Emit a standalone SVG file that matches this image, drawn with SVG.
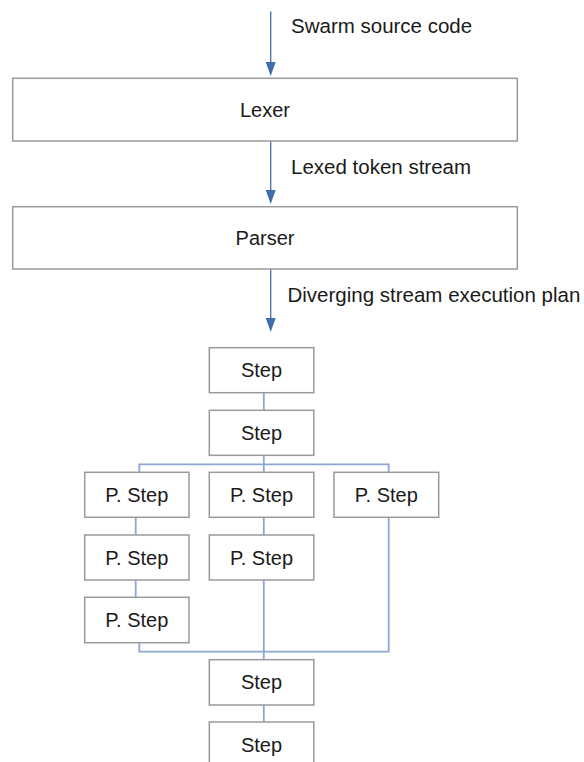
<svg xmlns="http://www.w3.org/2000/svg" width="584" height="762" viewBox="0 0 584 762">
  <style>
    .box { fill: #ffffff; stroke: #9a9a9a; stroke-width: 1.5; }
    .txt { font-family: "Liberation Sans", Arial, sans-serif; font-size: 20px; fill: #1a1a1a; text-anchor: middle; }
    .lbl { font-family: "Liberation Sans", Arial, sans-serif; font-size: 20.5px; fill: #1a1a1a; }
    .flow { stroke: #3f6ea8; stroke-width: 1.3; fill: none; }
    .tree { stroke: #8aa8d2; stroke-width: 1.8; fill: none; }
  </style>
  <defs>
    <marker id="arrow" viewBox="0 0 10 14" refX="5" refY="14" markerWidth="10" markerHeight="14" markerUnits="userSpaceOnUse" orient="auto-start-reverse">
      <path d="M0,0 L10,0 L5,14 Z" fill="#3f6ea8"/>
    </marker>
  </defs>
  <rect width="584" height="762" fill="#ffffff"/>

  <!-- connectors -->
  <g id="connectors">
    <line class="flow" x1="270.7" y1="11.5" x2="270.7" y2="62" />
    <path d="M265.7,62 L275.7,62 L270.7,76 Z" fill="#3f6ea8"/>
    <line class="flow" x1="270.7" y1="141" x2="270.7" y2="190" />
    <path d="M265.7,190 L275.7,190 L270.7,204 Z" fill="#3f6ea8"/>
    <line class="flow" x1="270.7" y1="269" x2="270.7" y2="318" />
    <path d="M265.7,318 L275.7,318 L270.7,332 Z" fill="#3f6ea8"/>

    <!-- step chain -->
    <line class="tree" x1="263.8" y1="392.7" x2="263.8" y2="410.3" />
    <!-- fan-out bus -->
    <line class="tree" x1="263.8" y1="455.3" x2="263.8" y2="472.3" />
    <polyline class="tree" points="139.3,472.3 139.3,464.3 388.7,464.3 388.7,472.3" />
    <!-- left branch -->
    <line class="tree" x1="135.7" y1="517.3" x2="135.7" y2="535" />
    <line class="tree" x1="135.7" y1="580" x2="135.7" y2="597.3" />
    <!-- middle branch -->
    <line class="tree" x1="263.8" y1="517.3" x2="263.8" y2="535" />
    <line class="tree" x1="263.8" y1="580" x2="263.8" y2="659.7" />
    <!-- fan-in bus -->
    <polyline class="tree" points="139.3,642.7 139.3,651.7 388.7,651.7 388.7,517.3" />
    <line class="tree" x1="263.8" y1="705" x2="263.8" y2="722" />
  </g>

  <!-- labels -->
  <text class="lbl" x="291" y="33">Swarm source code</text>
  <text class="lbl" x="291" y="174.3">Lexed token stream</text>
  <text class="lbl" x="287.5" y="302.3">Diverging stream execution plan</text>

  <g id="lexer">
    <rect class="box" x="12.7" y="78.3" width="504.6" height="62.7"/>
    <text class="txt" x="265" y="117">Lexer</text>
  </g>
  <g id="parser">
    <rect class="box" x="12.7" y="206.7" width="504.6" height="62.3"/>
    <text class="txt" x="265" y="245.2">Parser</text>
  </g>

  <g id="step1">
    <rect class="box" x="209.3" y="347.7" width="104.5" height="45"/>
    <text class="txt" x="261.5" y="377.3">Step</text>
  </g>
  <g id="step2">
    <rect class="box" x="209.3" y="410.3" width="104.5" height="45"/>
    <text class="txt" x="261.5" y="440">Step</text>
  </g>

  <g id="pstep-a1">
    <rect class="box" x="84.7" y="472.3" width="104.3" height="45"/>
    <text class="txt" x="136.8" y="502">P. Step</text>
  </g>
  <g id="pstep-b1">
    <rect class="box" x="209.3" y="472.3" width="104.5" height="45"/>
    <text class="txt" x="261.5" y="502">P. Step</text>
  </g>
  <g id="pstep-c1">
    <rect class="box" x="334" y="472.3" width="104.7" height="45"/>
    <text class="txt" x="386.3" y="502">P. Step</text>
  </g>

  <g id="pstep-a2">
    <rect class="box" x="84.7" y="535" width="104.3" height="45"/>
    <text class="txt" x="136.8" y="564.7">P. Step</text>
  </g>
  <g id="pstep-b2">
    <rect class="box" x="209.3" y="535" width="104.5" height="45"/>
    <text class="txt" x="261.5" y="564.7">P. Step</text>
  </g>

  <g id="pstep-a3">
    <rect class="box" x="84.7" y="597.3" width="104.3" height="45.4"/>
    <text class="txt" x="136.8" y="627">P. Step</text>
  </g>

  <g id="step3">
    <rect class="box" x="209.3" y="659.7" width="104.5" height="45.3"/>
    <text class="txt" x="261.5" y="689.4">Step</text>
  </g>
  <g id="step4">
    <rect class="box" x="209.3" y="722" width="104.5" height="45"/>
    <text class="txt" x="261.5" y="751.7">Step</text>
  </g>
</svg>
